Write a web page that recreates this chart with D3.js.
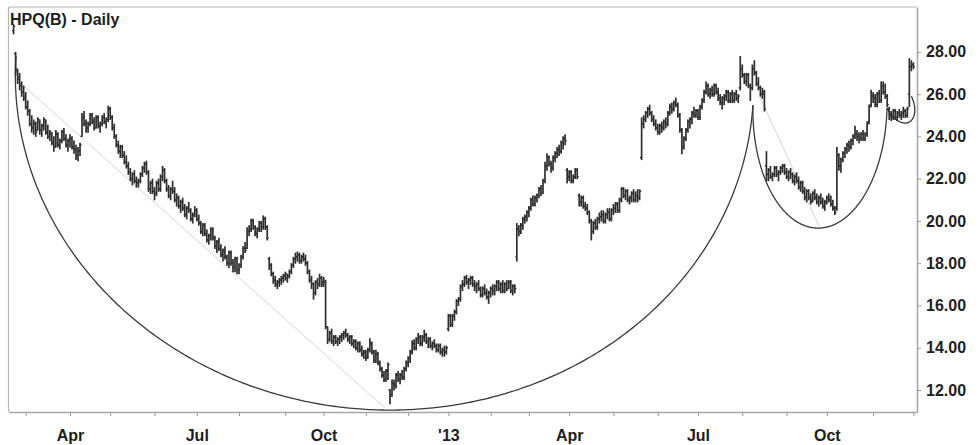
<!DOCTYPE html>
<html><head><meta charset="utf-8">
<script src="https://cdn.jsdelivr.net/npm/d3@7"></script>
<style>
html,body{margin:0;padding:0;background:#fff;}
svg{display:block;}
text{font-family:"Liberation Sans",Arial,Helvetica,sans-serif;font-weight:bold;fill:#1e1e1e;}
</style></head>
<body><svg id="chart" width="978" height="445"></svg>
<script>
const title = "HPQ(B) - Daily";
const firstDay = "2012-02-22", lastDay = "2013-12-02";
const holidays = ["2012-04-06","2012-05-28","2012-07-04","2012-09-03","2012-10-29","2012-10-30","2012-11-22","2012-12-25",
  "2013-01-01","2013-01-21","2013-02-18","2013-03-29","2013-05-27","2013-07-04","2013-09-02","2013-11-28"];

const open = [
29.0,27.9,27.1,26.8,26.4,26.1,25.9,25.4,25.2,24.6, 24.4,24.6,24.3,24.7,24.3,24.5,24.7,24.2,24.0,24.1,
23.7,23.5,24.1,23.6,23.8,24.2,23.9,23.6,23.8,23.9, 23.5,23.4,23.1,23.3,24.0,24.9,24.6,24.4,24.6,25.0,
24.7,24.4,24.9,24.5,24.6,24.9,24.7,24.8,25.3,24.9, 24.4,24.0,23.6,23.3,23.5,23.1,22.8,22.6,22.3,22.0,
22.2,21.9,21.8,21.9,22.2,22.5,22.7,22.3,21.5,21.8, 21.4,21.3,21.8,21.5,22.1,22.4,21.9,21.5,21.2,21.5,
21.4,21.0,21.1,20.7,20.9,20.6,20.3,20.6,20.5,20.1, 20.3,20.5,20.1,19.9,19.5,19.8,19.4,19.1,19.3,19.6,
19.2,18.8,19.0,18.7,18.4,18.6,18.3,18.0,18.5,18.0, 17.8,18.2,17.7,17.9,18.3,18.7,18.7,19.5,19.6,20.0,
19.7,19.4,19.6,19.9,19.7,20.1,19.7,18.2,17.9,17.5, 17.2,17.0,17.1,17.2,17.3,17.4,17.3,17.4,17.6,17.9,
18.2,18.3,18.4,18.1,18.3,18.2,18.0,17.6,17.2,17.0, 16.6,17.1,17.0,17.3,17.1,17.1,15.0,14.4,14.7,14.3,
14.5,14.3,14.4,14.5,14.6,14.7,14.6,14.4,14.5,14.2, 14.3,14.0,14.2,13.9,13.7,13.8,13.6,13.9,14.2,13.8,
13.4,13.7,13.3,13.0,12.7,12.5,12.9,12.0,11.8,12.3, 12.2,12.7,12.5,12.7,12.6,13.0,13.3,13.5,13.8,14.2,
14.0,14.4,14.5,14.2,14.5,14.6,14.3,14.4,14.1,14.2, 14.1,13.9,14.1,13.8,13.9,13.8,14.9,15.5,15.1,15.5,
15.7,16.2,16.3,16.9,17.0,17.3,17.1,17.2,17.3,17.0, 16.9,17.0,16.8,16.5,16.8,16.6,16.4,16.6,16.8,16.7,
16.9,17.1,16.8,17.0,16.7,17.0,16.8,17.1,16.7,16.9, 18.3,19.6,19.5,19.8,20.1,20.2,20.4,20.6,21.0,20.8,
21.1,21.2,21.5,21.3,21.9,22.6,23.0,22.7,22.5,23.0, 23.2,23.4,23.3,23.7,23.9,22.4,22.1,22.3,21.9,22.1,
22.4,21.2,20.9,21.1,20.7,20.6,20.4,20.0,19.5,19.9, 19.7,20.1,20.2,20.3,20.0,20.3,20.4,20.1,20.5,20.6,
20.8,20.5,21.0,21.5,21.2,21.4,21.0,21.1,21.3,21.0, 21.2,21.1,23.0,24.6,24.8,25.1,25.3,25.1,24.8,24.6,
24.4,24.2,24.5,24.4,24.7,24.6,25.1,25.4,25.3,25.6, 25.5,25.0,24.3,23.5,23.9,24.3,24.7,24.8,25.1,25.0,
25.2,24.9,25.4,25.7,26.1,26.4,26.0,26.2,26.0,26.4, 26.1,25.8,25.6,25.8,25.9,26.1,25.7,26.0,25.7,26.0,
25.8,26.3,27.2,26.9,26.6,26.9,26.4,26.3,27.2,27.0, 26.5,26.3,26.0,26.0,22.6,22.2,22.4,22.1,22.2,22.5,
22.2,22.3,22.5,22.6,22.3,22.1,22.3,22.2,21.9,22.1, 21.9,21.6,21.8,21.4,21.1,21.4,21.1,21.0,21.3,21.1,
20.9,21.1,20.9,20.7,20.9,21.1,21.0,20.8,20.6,20.6, 23.1,22.6,22.9,23.2,23.4,23.6,23.5,23.8,24.0,24.1,
24.0,23.9,24.1,23.9,24.1,24.7,25.5,25.9,25.8,25.5, 26.0,25.7,26.4,26.1,25.9,25.3,25.0,24.9,25.2,24.9,
25.1,25.0,25.1,25.2,25.0,26.0,27.3,27.4];

const high = [
29.3,28.0,27.2,27.0,26.6,26.4,26.1,25.7,25.3,25.0, 24.8,24.7,24.9,24.8,24.6,24.9,24.8,24.55,24.3,24.2,
24.0,24.3,24.2,23.9,24.3,24.4,24.1,23.9,24.1,24.0, 23.8,23.6,23.5,23.7,25.1,25.2,24.8,24.7,25.1,25.1,
24.9,25.0,25.0,24.7,25.0,25.1,24.9,25.45,25.4,25.0, 24.6,24.1,23.8,23.6,23.6,23.3,23.1,22.8,22.5,22.3,
22.4,22.1,22.0,22.3,22.6,22.8,22.85,22.4,21.9,22.0, 21.6,21.9,22.0,22.2,22.6,22.5,22.0,21.7,21.6,21.9,
21.6,21.3,21.2,21.0,21.1,20.8,20.7,20.9,20.6,20.4, 20.7,20.6,20.3,20.0,19.9,19.9,19.6,19.4,19.7,19.7,
19.3,19.1,19.2,18.9,18.7,18.8,18.4,18.6,18.6,18.2, 18.3,18.3,18.0,18.4,18.8,19.0,19.7,19.8,20.1,20.1,
19.8,19.7,20.0,20.0,20.26,20.2,19.8,18.3,18.0,17.6, 17.4,17.2,17.3,17.4,17.5,17.6,17.5,17.7,18.0,18.3,
18.5,18.55,18.5,18.4,18.5,18.4,18.1,17.7,17.4,17.1, 17.2,17.3,17.5,17.4,17.35,17.2,15.0,14.8,14.9,14.6,
14.6,14.5,14.6,14.7,14.8,14.9,14.7,14.6,14.6,14.4, 14.4,14.3,14.3,14.1,13.9,13.9,14.0,14.45,14.3,13.9,
13.9,13.8,13.4,13.1,12.9,13.0,13.3,12.05,12.5,12.5, 12.8,12.9,12.8,12.95,13.1,13.4,13.6,13.9,14.36,14.4,
14.5,14.7,14.6,14.6,14.85,14.7,14.5,14.5,14.3,14.4, 14.2,14.2,14.2,14.0,14.1,14.1,15.6,15.6,15.6,15.8,
16.3,16.4,17.0,17.2,17.4,17.45,17.3,17.4,17.4,17.2, 17.1,17.2,16.9,16.9,17.0,16.8,16.7,16.9,17.0,17.0,
17.2,17.2,17.1,17.2,17.1,17.2,17.2,17.2,17.0,17.0, 19.9,19.8,19.9,20.2,20.3,20.5,20.7,21.1,21.2,21.2,
21.3,21.6,21.7,22.0,22.8,23.2,23.1,22.85,23.1,23.3, 23.5,23.6,23.8,24.0,24.1,22.5,22.4,22.4,22.2,22.5,
22.5,21.3,21.2,21.2,20.9,20.8,20.5,20.1,20.0,20.1, 20.2,20.4,20.5,20.5,20.4,20.6,20.6,20.6,20.8,20.9,
20.9,21.1,21.6,21.6,21.5,21.5,21.2,21.4,21.5,21.4, 21.5,21.5,24.9,25.0,25.2,25.4,25.5,25.2,25.0,24.8,
24.6,24.6,24.7,24.8,24.9,25.2,25.55,25.6,25.7,25.83, 25.6,25.1,24.4,24.0,24.4,24.8,24.9,25.2,25.4,25.3,
25.3,25.5,25.8,26.2,26.6,26.5,26.3,26.4,26.5,26.5, 26.3,26.0,25.9,26.0,26.2,26.2,26.1,26.2,26.1,26.2,
26.0,27.8,27.4,27.0,27.0,27.0,26.5,27.4,27.6,27.1, 26.8,26.4,26.3,26.2,23.3,22.5,22.6,22.3,22.6,22.6,
22.4,22.6,22.7,22.7,22.5,22.4,22.5,22.3,22.2,22.3, 22.1,21.9,21.9,21.6,21.5,21.5,21.3,21.4,21.5,21.3,
21.2,21.3,21.1,21.0,21.2,21.3,21.2,21.0,20.7,23.5, 23.2,23.0,23.3,23.5,23.7,23.8,23.9,24.1,24.5,24.3,
24.2,24.2,24.3,24.2,24.7,25.5,26.2,26.1,26.0,26.1, 26.2,26.6,26.6,26.5,26.0,25.4,25.2,25.3,25.3,25.2,
25.3,25.2,25.4,25.3,25.4,27.7,27.6,27.5];

const low = [
28.85,26.9,26.5,26.2,25.9,25.7,25.3,25.0,24.5,24.2, 24.1,24.0,24.3,24.1,24.0,24.3,24.1,23.9,23.8,23.6,
23.3,23.5,23.5,23.4,23.7,23.8,23.5,23.3,23.5,23.4, 23.2,22.9,22.85,23.1,24.0,24.5,24.2,24.2,24.5,24.6,
24.3,24.4,24.4,24.2,24.5,24.6,24.4,24.7,24.8,24.3, 23.9,23.5,23.2,23.0,23.0,22.7,22.5,22.2,21.9,21.7,
21.8,21.6,21.6,21.8,22.1,22.3,22.2,21.4,21.3,21.3, 21.0,21.2,21.4,21.4,21.9,21.8,21.4,21.1,21.0,21.3,
20.9,20.7,20.6,20.4,20.5,20.2,20.1,20.4,20.0,19.9, 20.2,20.0,19.8,19.4,19.3,19.3,19.0,18.9,19.1,19.1,
18.7,18.5,18.6,18.3,18.1,18.2,17.9,17.8,17.9,17.6, 17.6,17.5,17.5,17.8,18.2,18.5,18.7,19.3,19.5,19.6,
19.3,19.2,19.5,19.5,19.6,19.6,19.1,17.7,17.4,17.05, 16.9,16.8,16.9,17.0,17.1,17.2,17.1,17.3,17.5,17.8,
18.0,18.1,18.0,18.0,18.1,17.9,17.5,17.1,16.8,16.3, 16.5,16.8,16.9,16.9,16.9,14.9,14.2,14.3,14.2,14.1,
14.2,14.1,14.2,14.3,14.4,14.5,14.3,14.2,14.1,14.0, 13.9,13.8,13.8,13.6,13.5,13.4,13.5,13.8,13.7,13.3,
13.3,13.2,12.9,12.6,12.4,12.4,12.5,11.35,11.7,12.0, 12.1,12.4,12.3,12.5,12.5,12.9,13.1,13.3,13.7,13.9,
13.9,14.2,14.1,14.1,14.3,14.2,14.0,14.0,13.9,14.0, 13.8,13.8,13.7,13.6,13.6,13.7,14.8,15.0,15.0,15.3,
15.6,16.0,16.2,16.7,16.9,17.0,16.8,17.0,16.9,16.7, 16.6,16.7,16.4,16.4,16.5,16.3,16.1,16.4,16.5,16.5,
16.7,16.7,16.6,16.6,16.6,16.7,16.8,16.6,16.5,16.6, 18.1,19.3,19.4,19.6,19.9,20.0,20.2,20.5,20.7,20.7,
20.9,21.1,21.2,21.3,21.8,22.4,22.6,22.3,22.4,22.8, 23.0,23.1,23.2,23.4,23.6,21.8,21.9,21.8,21.8,22.0,
22.0,20.7,20.7,20.6,20.5,20.3,19.9,19.1,19.4,19.6, 19.6,19.9,20.0,19.9,19.9,20.1,20.0,20.0,20.3,20.4,
20.4,20.4,20.9,21.1,21.0,20.9,20.8,20.9,20.9,20.9, 20.9,21.0,22.9,24.4,24.7,24.9,25.0,24.7,24.5,24.3,
24.1,24.1,24.2,24.3,24.4,24.5,25.0,25.1,25.2,25.4, 24.9,24.2,23.18,23.4,23.8,24.2,24.4,24.6,24.9,24.9,
24.8,24.8,25.3,25.6,26.0,25.9,25.8,25.9,25.9,26.0, 25.7,25.5,25.3,25.5,25.7,25.6,25.6,25.6,25.6,25.7,
25.6,26.2,26.8,26.5,26.4,26.3,25.7,26.2,26.9,26.4, 26.2,25.9,25.8,25.2,21.9,21.9,22.0,21.9,22.1,22.1,
21.9,22.2,22.3,22.2,22.0,21.9,22.0,21.8,21.7,21.8, 21.5,21.4,21.3,21.0,20.9,21.0,20.8,20.9,21.0,20.8,
20.7,20.8,20.6,20.5,20.8,20.9,20.7,20.5,20.3,20.5, 22.4,22.3,22.8,23.0,23.2,23.3,23.4,23.6,23.9,23.8,
23.7,23.8,23.8,23.8,24.0,24.6,25.4,25.6,25.4,25.4, 25.6,25.6,26.0,25.8,25.4,24.8,24.75,24.8,24.8,24.75,
24.9,24.8,24.9,24.9,24.9,25.4,27.1,27.2];

const close = [
29.2,27.2,26.7,26.4,26.1,25.8,25.4,25.2,24.6,24.4, 24.6,24.2,24.8,24.3,24.5,24.8,24.2,24.0,24.2,23.7,
23.5,24.1,23.6,23.8,24.2,23.9,23.6,23.8,23.9,23.5, 23.4,23.1,23.3,23.6,24.9,24.6,24.4,24.6,25.0,24.7,
24.4,24.9,24.5,24.6,24.9,24.7,24.8,25.3,24.9,24.4, 24.0,23.6,23.3,23.5,23.1,22.8,22.6,22.3,22.0,22.2,
21.9,21.8,21.9,22.2,22.5,22.7,22.3,21.5,21.8,21.4, 21.3,21.8,21.5,22.1,22.4,21.9,21.5,21.2,21.5,21.4,
21.0,21.1,20.7,20.9,20.6,20.3,20.6,20.5,20.1,20.3, 20.5,20.1,19.9,19.5,19.8,19.4,19.1,19.3,19.6,19.2,
18.8,19.0,18.7,18.4,18.6,18.3,18.0,18.5,18.0,17.8, 18.2,17.7,17.9,18.3,18.7,18.6,19.5,19.6,20.0,19.7,
19.4,19.6,19.9,19.7,20.1,19.7,19.2,17.9,17.5,17.2, 17.0,17.1,17.2,17.3,17.4,17.5,17.4,17.6,17.9,18.2,
18.3,18.4,18.1,18.3,18.2,18.0,17.6,17.2,17.0,16.6, 17.1,17.0,17.3,17.0,17.2,15.0,14.4,14.7,14.3,14.5,
14.3,14.4,14.5,14.6,14.7,14.6,14.4,14.5,14.2,14.3, 14.0,14.2,13.9,13.7,13.8,13.5,13.9,14.2,13.8,13.4,
13.7,13.3,13.0,12.7,12.5,12.9,13.2,11.7,12.3,12.2, 12.7,12.5,12.7,12.6,13.0,13.3,13.5,13.8,14.2,14.0,
14.4,14.5,14.2,14.5,14.6,14.3,14.4,14.1,14.2,14.1, 13.9,14.1,13.8,13.9,13.8,14.0,15.5,15.1,15.5,15.7,
16.2,16.3,16.9,17.0,17.3,17.1,17.2,17.3,17.0,16.9, 17.0,16.8,16.5,16.8,16.6,16.4,16.6,16.8,16.7,16.9,
17.1,16.8,17.0,16.7,17.0,16.8,17.1,16.7,16.9,16.8, 19.6,19.5,19.8,20.1,20.2,20.4,20.6,21.0,20.8,21.1,
21.2,21.5,21.3,21.9,22.6,23.0,22.7,22.5,23.0,23.2, 23.4,23.3,23.7,23.9,23.8,22.1,22.3,21.9,22.1,22.4,
22.1,20.9,21.1,20.7,20.6,20.4,20.0,19.5,19.9,19.7, 20.1,20.2,20.3,20.0,20.3,20.4,20.1,20.5,20.6,20.8,
20.5,21.0,21.5,21.2,21.4,21.0,21.1,21.3,21.0,21.2, 21.1,21.4,24.6,24.8,25.1,25.3,25.1,24.8,24.6,24.4,
24.2,24.5,24.4,24.7,24.6,25.1,25.4,25.3,25.6,25.5, 25.0,24.3,23.5,23.9,24.3,24.7,24.8,25.1,25.0,25.2,
24.9,25.4,25.7,26.1,26.4,26.0,26.2,26.0,26.4,26.1, 25.8,25.6,25.8,25.9,26.1,25.7,26.0,25.7,26.0,25.8,
25.9,27.2,26.9,26.6,26.9,26.4,26.3,27.2,27.0,26.5, 26.3,26.0,26.1,25.3,22.2,22.4,22.1,22.2,22.5,22.2,
22.3,22.5,22.6,22.3,22.1,22.3,22.2,21.9,22.1,21.9, 21.6,21.8,21.4,21.1,21.4,21.1,20.9,21.3,21.1,20.9,
21.1,20.9,20.7,20.9,21.1,21.0,20.8,20.6,20.4,23.1, 22.6,22.9,23.2,23.4,23.6,23.5,23.8,24.0,24.1,24.0,
23.9,24.1,23.9,24.1,24.6,25.4,25.9,25.8,25.5,26.0, 25.7,26.4,26.1,25.9,25.5,25.0,24.9,25.2,24.9,25.1,
25.0,25.1,25.2,25.0,25.3,27.3,27.4,27.3];

const yTicks = [12,14,16,18,20,22,24,26,28];
const labelMonths = ["2012-04","2012-07","2012-10","2013-01","2013-04","2013-07","2013-10"];
const labelTexts  = ["Apr","Jul","Oct","'13","Apr","Jul","Oct"];

// half-ellipse arcs: start (day index, price), end (day index, price), lowest price reached
const arcStartIdx = [1.2, 367.3, 433.9];
const arcStartPx  = [27.8, 25.48, 25.34];
const arcEndIdx   = [367.3, 433.9, 446.0];
const arcEndPx    = [25.48, 25.34, 25.90];
const arcLowPx    = [11.05, 19.66, 24.63];

// faint guide lines
const guideStartIdx = [1.2, 370.8];
const guideStartPx  = [26.71, 25.86];
const guideEndIdx   = [184.5, 400.6];
const guideEndPx    = [11.15, 19.66];

// trading calendar
const dates = [];
{
  let t = Date.UTC(2012,1,22); const end = Date.UTC(2013,11,2);
  while (t <= end) {
    const d = new Date(t), dow = d.getUTCDay(), s = d.toISOString().slice(0,10);
    if (dow !== 0 && dow !== 6 && !holidays.includes(s)) dates.push(s);
    t += 864e5;
  }
}
const n = Math.min(dates.length, open.length, high.length, low.length, close.length);

const svg = d3.select("#chart");
const L = 8.5, R = 917, T = 7, B = 412;
const x = d3.scaleLinear().domain([-2.53, 448.8]).range([L, R]);
const y = d3.scaleLinear().domain([10.96, 30.12]).range([B, T]);

svg.append("defs").append("clipPath").attr("id","plotclip")
  .append("rect").attr("x",L).attr("y",T).attr("width",R-L).attr("height",B-T);

svg.append("rect").attr("x",0).attr("y",0).attr("width",978).attr("height",445).attr("fill","#fff");
svg.append("line").attr("x1",L).attr("x2",R).attr("y1",T).attr("y2",T).attr("stroke","#b5b5b5").attr("stroke-width",1.2);
svg.append("line").attr("x1",L).attr("x2",L).attr("y1",T).attr("y2",B).attr("stroke","#b5b5b5").attr("stroke-width",1.2);

// month ticks
const monthIdx = [], monthLab = {};
for (let i = 1; i < dates.length; i++) {
  if (dates[i].slice(0,7) !== dates[i-1].slice(0,7)) {
    monthIdx.push(i);
    const k = labelMonths.indexOf(dates[i].slice(0,7));
    if (k >= 0) monthLab[i] = labelTexts[k];
  }
}
const xAxis = d3.axisBottom(x).tickValues(monthIdx).tickSize(4).tickSizeOuter(0).tickPadding(13.6)
  .tickFormat(i => monthLab[i] || "");
const gx = svg.append("g").attr("transform",`translate(0,${B})`).call(xAxis);
gx.select(".domain").attr("stroke","#a8a8a8").attr("stroke-width",1.4);
gx.selectAll(".tick line").attr("stroke","#999");
gx.selectAll("text").style("font-size","16px").attr("fill","#1e1e1e");

const yAxis = d3.axisRight(y).tickValues(yTicks).tickSize(4).tickSizeOuter(0).tickPadding(5).tickFormat(d3.format(".2f"));
const gy = svg.append("g").attr("transform",`translate(${R},0)`).call(yAxis);
gy.select(".domain").attr("stroke","#a8a8a8").attr("stroke-width",1.6);
gy.selectAll(".tick line").attr("stroke","#999");
gy.selectAll("text").style("font-size","16px").attr("fill","#1e1e1e");

// guides
const gGuide = svg.append("g");
guideStartIdx.forEach((_, k) => {
  gGuide.append("line")
    .attr("x1", x(guideStartIdx[k])).attr("y1", y(guideStartPx[k]))
    .attr("x2", x(guideEndIdx[k])).attr("y2", y(guideEndPx[k]))
    .attr("stroke","#d6d6d6").attr("stroke-width",1);
});

// arcs
function halfEllipse(k) {
  const x0 = x(arcStartIdx[k]), y0 = y(arcStartPx[k]), x1 = x(arcEndIdx[k]), y1 = y(arcEndPx[k]), yl = y(arcLowPx[k]);
  const mx = (x0+x1)/2, my = (y0+y1)/2, dx = x1-x0, dy = y1-y0, len = Math.hypot(dx,dy), A = len/2;
  const ux = dx/len, uy = dy/len;
  let vx = -uy, vy = ux; if (vy < 0) { vx = -vx; vy = -vy; }
  const Bm = Math.sqrt(Math.max((yl-my)*(yl-my) - (A*uy)*(A*uy), 1)) / vy;
  const pts = d3.range(0, 361).map(j => {
    const t = j * Math.PI / 360;
    return [mx - A*Math.cos(t)*ux + Bm*Math.sin(t)*vx, my - A*Math.cos(t)*uy + Bm*Math.sin(t)*vy];
  });
  return d3.line()(pts);
}
const gArc = svg.append("g").attr("clip-path","url(#plotclip)");
arcStartIdx.forEach((_, k) => {
  gArc.append("path").attr("d", halfEllipse(k)).attr("fill","none").attr("stroke","#3a3a3a").attr("stroke-width",1.3);
});

// OHLC bars
const idx = d3.range(n);
const gBars = svg.append("g").attr("stroke","#2e2e2e");
gBars.selectAll("line.hl").data(idx).join("line").attr("class","hl")
  .attr("x1", i => x(i)).attr("x2", i => x(i))
  .attr("y1", i => y(Math.max(high[i], open[i], close[i])))
  .attr("y2", i => y(Math.min(low[i], open[i], close[i])) + 0.5)
  .attr("stroke-width", 1.7);
gBars.selectAll("line.op").data(idx).join("line").attr("class","op")
  .attr("x1", i => x(i) - 1.6).attr("x2", i => x(i))
  .attr("y1", i => y(open[i])).attr("y2", i => y(open[i])).attr("stroke-width", 1.3);
gBars.selectAll("line.cl").data(idx).join("line").attr("class","cl")
  .attr("x1", i => x(i)).attr("x2", i => x(i) + 1.6)
  .attr("y1", i => y(close[i])).attr("y2", i => y(close[i])).attr("stroke-width", 1.3);

svg.append("text").attr("x", 10).attr("y", 25).style("font-size","16px").text(title);
</script>
</body></html>
